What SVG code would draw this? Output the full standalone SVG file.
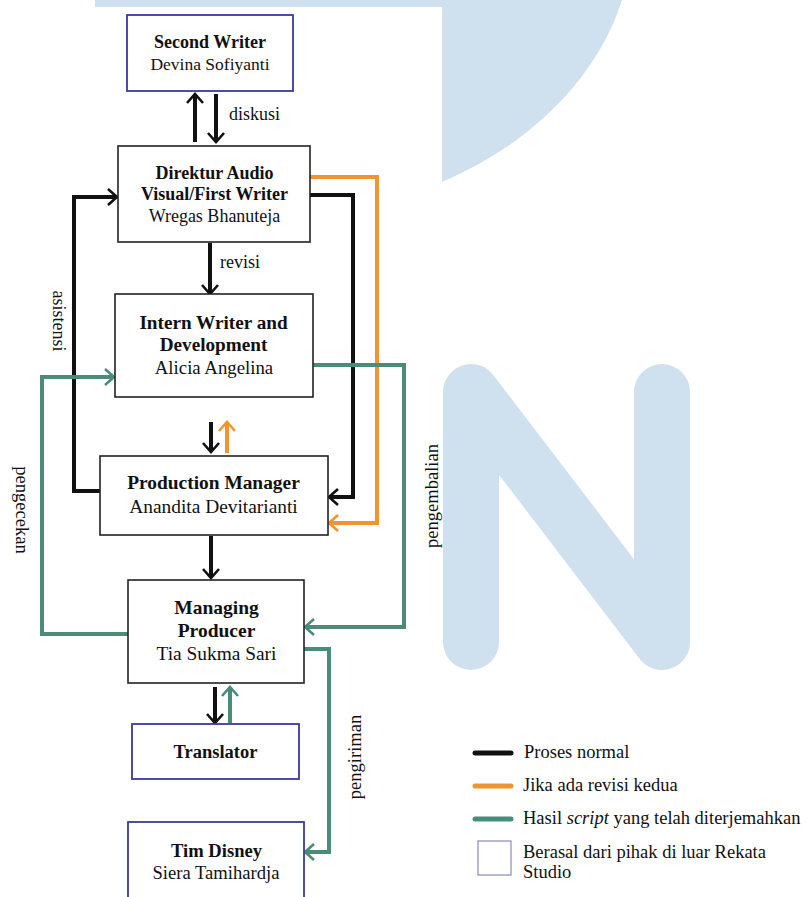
<svg xmlns="http://www.w3.org/2000/svg" width="807" height="897" viewBox="0 0 807 897">
<style>
text{font-family:'Liberation Serif','Times New Roman',Times,serif;font-size:18px;fill:#111}
.b{font-weight:bold}
.c{text-anchor:middle}
.lg{font-size:18.5px}
.box{fill:#fff;stroke:#222;stroke-width:1.6}
.ext{fill:#fff;stroke:#3a3a9c;stroke-width:1.8}
.k{fill:none;stroke:#111;stroke-width:4}
.o{fill:none;stroke:#ef952f;stroke-width:4}
.g{fill:none;stroke:#4b8b7a;stroke-width:4}
.wm{fill:#cfe0ef}
</style>
<defs>
<marker id="ak" markerUnits="userSpaceOnUse" markerWidth="24" markerHeight="24" refX="0" refY="0" viewBox="-12 -12 24 24" orient="auto" overflow="visible"><path d="M-9,-8 L0,0 L-9,8" fill="none" stroke="#111" stroke-width="2.6"/></marker>
<marker id="ao" markerUnits="userSpaceOnUse" markerWidth="24" markerHeight="24" refX="0" refY="0" viewBox="-12 -12 24 24" orient="auto" overflow="visible"><path d="M-9,-8 L0,0 L-9,8" fill="none" stroke="#ef952f" stroke-width="2.6"/></marker>
<marker id="ag" markerUnits="userSpaceOnUse" markerWidth="24" markerHeight="24" refX="0" refY="0" viewBox="-12 -12 24 24" orient="auto" overflow="visible"><path d="M-9,-8 L0,0 L-9,8" fill="none" stroke="#4b8b7a" stroke-width="2.6"/></marker>
</defs>
<rect width="807" height="897" fill="#fff"/>
<g id="watermark">
<path class="wm" d="M95,0 H622 C600,70 540,140 442,182 V7 H95 Z"/>
<polyline points="471,642 471,392 662,642 662,392" fill="none" stroke="#cfe0ef" stroke-width="56" stroke-linecap="round" stroke-linejoin="round"/>
</g>
<g id="connectors">
<path class="k" d="M195,142 V94" marker-end="url(#ak)"/>
<path class="k" d="M216,94 V142" marker-end="url(#ak)"/>
<path class="k" d="M210,243 V294" marker-end="url(#ak)"/>
<path class="k" d="M100,491 H74 V197 H117" marker-end="url(#ak)"/>
<path class="k" d="M310,195 H353 V497 H329" marker-end="url(#ak)"/>
<path class="k" d="M211,422 V452" marker-end="url(#ak)"/>
<path class="k" d="M211,536 V578" marker-end="url(#ak)"/>
<path class="k" d="M215,687 V723" marker-end="url(#ak)"/>
<path class="o" d="M310,177 H377 V523 H329" marker-end="url(#ao)"/>
<path class="o" d="M227,453 V422" marker-end="url(#ao)"/>
<path class="g" d="M128,634 H42 V377 H114" marker-end="url(#ag)"/>
<path class="g" d="M313,365 H404 V627 H305" marker-end="url(#ag)"/>
<path class="g" d="M304,649 H329 V852 H305" marker-end="url(#ag)"/>
<path class="g" d="M230,723 V687" marker-end="url(#ag)"/>
<text x="229" y="120">diskusi</text>
<text x="220" y="268">revisi</text>
<text class="c" transform="translate(53,321) rotate(90)">asistensi</text>
<text class="c" transform="translate(16,510) rotate(90)" style="font-size:18.5px">pengecekan</text>
<text class="c" transform="translate(438,496) rotate(-90)" style="font-size:18.5px">pengembalian</text>
<text class="c" transform="translate(361,757) rotate(-90)" style="font-size:18.5px">pengiriman</text>
</g>
<g id="second-writer">
<rect class="ext" x="127" y="15" width="166" height="76"/>
<text class="b c" x="210" y="48">Second Writer</text>
<text class="c" x="210" y="70" style="font-size:17.5px">Devina Sofiyanti</text>
</g>
<g id="direktur" style="font-size:18px">
<rect class="box" x="118" y="146" width="192" height="96"/>
<text class="b c" x="214.5" y="179">Direktur Audio</text>
<text class="b c" x="214.5" y="200">Visual/First Writer</text>
<text class="c" x="214.5" y="222">Wregas Bhanuteja</text>
</g>
<g id="intern">
<rect class="box" x="115" y="294" width="198" height="103"/>
<text class="b c" x="213.5" y="329" style="font-size:19.2px">Intern Writer and</text>
<text class="b c" x="213.5" y="351" style="font-size:19.2px">Development</text>
<text class="c" x="214" y="374" style="font-size:18.8px">Alicia Angelina</text>
</g>
<g id="production-manager">
<rect class="box" x="100" y="456" width="228" height="79"/>
<text class="b c" x="213.5" y="489" style="font-size:19.4px">Production Manager</text>
<text class="c" x="213.5" y="513" style="font-size:19.4px">Anandita Devitarianti</text>
</g>
<g id="managing-producer">
<rect class="box" x="128" y="580" width="176" height="103"/>
<text class="b c" x="216.5" y="614" style="font-size:19.5px">Managing</text>
<text class="b c" x="216.5" y="637" style="font-size:19.5px">Producer</text>
<text class="c" x="216.5" y="660" style="font-size:19.4px">Tia Sukma Sari</text>
</g>
<g id="translator">
<rect class="ext" x="132" y="724" width="167" height="55"/>
<text class="b c" x="215.5" y="758" style="font-size:18.5px">Translator</text>
</g>
<g id="tim-disney">
<rect class="ext" x="128" y="822" width="176" height="90"/>
<text class="b c" x="216.5" y="857" style="font-size:18.6px">Tim Disney</text>
<text class="c" x="216" y="879" style="font-size:18.6px">Siera Tamihardja</text>
</g>
<g id="legend">
<line x1="475" y1="753" x2="511" y2="753" stroke="#111" stroke-width="5" stroke-linecap="round"/>
<line x1="475" y1="786" x2="511" y2="786" stroke="#ef952f" stroke-width="5" stroke-linecap="round"/>
<line x1="475" y1="819" x2="511" y2="819" stroke="#4b8b7a" stroke-width="5" stroke-linecap="round"/>
<rect x="478" y="841" width="33" height="34" fill="#fff" stroke="#8a8ab8" stroke-width="1.2"/>
<text class="lg" x="524" y="758">Proses normal</text>
<text class="lg" x="523" y="791">Jika ada revisi kedua</text>
<text class="lg" x="523" y="824">Hasil <tspan font-style="italic">script</tspan> yang telah diterjemahkan</text>
<text class="lg" x="523" y="858">Berasal dari pihak di luar Rekata</text>
<text class="lg" x="523" y="878">Studio</text>
</g>
</svg>
